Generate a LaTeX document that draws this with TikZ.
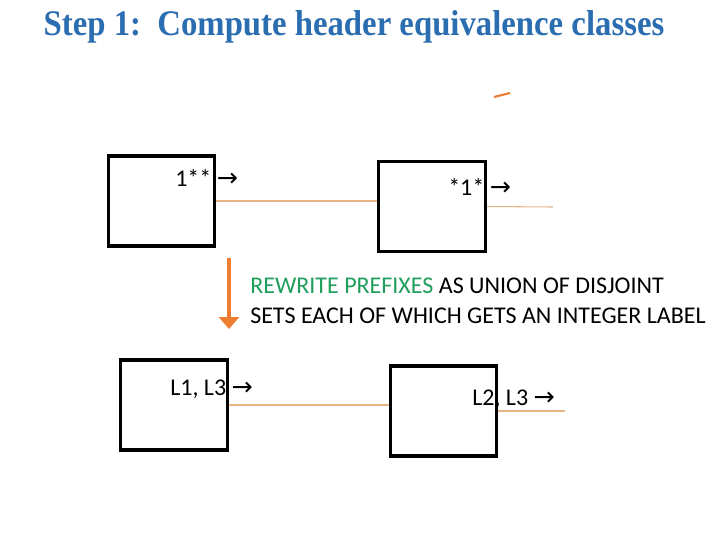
\documentclass[tikz,border=0pt]{standalone}
\usepackage{fontspec}
\setmainfont{Carlito}
\newfontfamily\titlefont{Liberation Serif}
\newfontfamily\arrowfont{DejaVu Sans}
\usepackage{tikz}
\usetikzlibrary{arrows.meta,positioning,calc}
\definecolor{steptitle}{HTML}{2A6DB0}
\definecolor{steporange}{HTML}{ED7D31}
\definecolor{steplink}{HTML}{E6B487}
\definecolor{stepgreen}{HTML}{1F9E5C}
\tikzset{
  swbox/.style={draw=black,line width=2.3pt,minimum width=80pt,minimum height=67.5pt,inner sep=0pt},
  link/.style={draw=steplink,line width=0.8pt},
  hdr/.style={anchor=base west,inner sep=0pt,font=\fontsize{18}{21}\selectfont},
  note/.style={anchor=north west,align=left,inner sep=0pt,font=\fontsize{18}{22.5}\selectfont},
  bigar/.style={-{Triangle[width=15pt,length=9pt]},draw=steporange,line width=3pt},
}
\newcommand{\rarr}{{\arrowfont\fontsize{19}{21}\selectfont →}}

\begin{document}
\begin{tikzpicture}[x=0.75pt,y=-0.75pt]
  \useasboundingbox (0,0) rectangle (720,540);
  \node[text=steptitle,font=\titlefont\bfseries\fontsize{27}{30}\selectfont,inner sep=0pt] (title) at (354,27) {\scalebox{0.91}[1]{Step 1:\ \ Compute header equivalence classes}};
  % switches, before and after
  \node[swbox] (s1) at (161.5,201) {};
  \node[swbox] (s2) at (432,206.5) {};
  \node[swbox] (t1) at (174,405) {};
  \node[swbox] (t2) at (443.5,411) {};
  \coordinate (s2out) at (553,207);
  \coordinate (t2out) at (565,411);
  \draw[link] (s1.east) -- (s1.east -| s2.west);
  \draw[link] (s2.east) -- (s2out);
  \draw[link] (t1.east) -- (t1.east -| t2.west);
  \draw[link] (t2.east) -- (t2out);
  % header labels
  \node[hdr] (h1) at (175,186) {1**\ \rarr};
  \node[hdr] (h2) at (448,195) {*1*\ \rarr};
  \node[hdr] (h3) at (170,395) {L1, L3\ \rarr};
  \node[hdr] (h4) at (472,405) {L2, L3\ \rarr};
  % rewrite step
  \coordinate (downtop) at (229,258);
  \coordinate (downbot) at (229,329);
  \draw[bigar] (downtop) -- (downbot);
  \node[note] (rw) at (250,278) {{\color{stepgreen}REWRITE PREFIXES} AS UNION OF DISJOINT\\SETS EACH OF WHICH GETS AN INTEGER LABEL};
  \coordinate (tick1) at (494,97);
  \coordinate (tick2) at (510,93);
  \draw[steporange,line width=1.6pt] (tick1) -- (tick2);
\end{tikzpicture}
\end{document}
